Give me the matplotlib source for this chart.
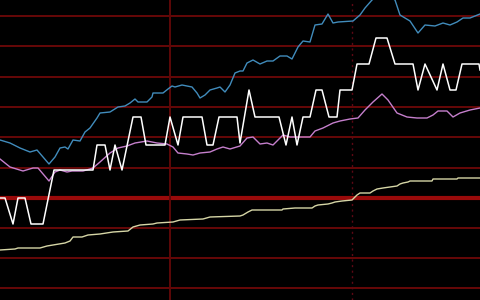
import numpy as np
import matplotlib.pyplot as plt

# values, in screen rows (top = 0)
blue_x = [0, 10, 20, 30, 37, 43, 49, 55, 60, 65, 68, 73, 80, 85, 90, 97, 100, 110, 118,
          125, 130, 135, 138, 147, 152, 153, 163, 168, 172, 175, 182, 187, 192, 197, 200, 205,
          210, 217, 220, 225, 230, 235, 240, 243, 247, 253, 260, 267, 273, 280, 287, 292, 298,
          303, 310, 315, 322, 328, 333, 338, 353, 360, 365, 372, 383, 395, 400, 410, 418, 425,
          435, 443, 450, 457, 463, 470, 480]
blue_y = [140, 143, 148, 152, 150, 157, 164, 157, 148, 147, 149, 140, 141, 132, 128, 118, 113, 112, 107,
          106, 103, 99, 102, 102, 97, 93, 93, 89, 86, 87, 85, 86, 87, 93, 98, 95,
          90, 88, 87, 92, 85, 73, 71, 71, 63, 60, 64, 61, 61, 56, 56, 59, 47,
          41, 42, 25, 24, 14, 23, 22, 21, 15, 8, 0, -8, 0, 15, 21, 33, 25,
          26, 23, 25, 22, 18, 18, 14]

white_x = [0, 5, 13, 18, 25, 31, 43, 54, 93, 97, 105, 110, 115, 122, 133, 141, 146, 165,
           170, 178, 183, 202, 207, 213, 219, 237, 240, 249, 255, 279, 286, 292, 297, 303,
           310, 316, 322, 329, 337, 340, 352, 357, 369, 376, 387, 395, 413, 418, 425, 437,
           443, 450, 456, 462, 479, 480]
white_y = [198, 198, 224, 198, 198, 224, 224, 170, 170, 145, 145, 170, 145, 170, 117, 117, 145, 145,
           117, 145, 117, 117, 145, 145, 117, 117, 143, 90, 117, 117, 145, 117, 145, 117,
           117, 90, 90, 117, 117, 90, 90, 64, 64, 38, 38, 64, 64, 90, 64, 90,
           64, 90, 90, 64, 64, 70]

pink_x = [0, 10, 23, 33, 38, 49, 55, 60, 67, 72, 83, 90, 93, 100, 110, 118, 127, 135, 147, 157,
          167, 173, 178, 187, 193, 200, 210, 217, 223, 230, 240, 247, 253, 260, 267, 273, 283,
          290, 297, 310, 315, 323, 333, 340, 350, 358, 365, 373, 382, 388, 397, 407, 417, 427,
          433, 438, 447, 453, 460, 470, 480]
pink_y = [159, 167, 171, 168, 168, 181, 172, 170, 172, 171, 171, 169, 168, 162, 153, 148, 146, 143, 141, 143,
          144, 147, 153, 154, 155, 153, 152, 149, 147, 149, 146, 138, 137, 144, 143, 145, 135,
          137, 137, 137, 131, 128, 123, 121, 119, 118, 110, 102, 94, 100, 113, 117, 118, 118,
          115, 111, 111, 117, 113, 110, 108]

yellow_x = [0, 15, 18, 40, 47, 53, 65, 70, 73, 82, 88, 100, 113, 128, 133, 140, 153, 157, 173,
            180, 203, 210, 240, 243, 248, 252, 282, 283, 295, 312, 315, 318, 328, 332, 335, 342,
            352, 353, 357, 360, 370, 373, 377, 383, 390, 397, 400, 403, 408, 410, 432, 433,
            457, 458, 480]
yellow_y = [250, 249, 248, 248, 246, 245, 243, 241, 237, 237, 235, 234, 232, 231, 227, 225, 224, 223, 222,
            220, 219, 217, 216, 215, 212, 210, 210, 209, 208, 208, 206, 205, 204, 203, 202, 201,
            200, 199, 195, 193, 193, 191, 189, 188, 187, 186, 184, 183, 182, 181, 181, 179,
            179, 178, 178]

grid_rows = [16, 46, 76.5, 107, 137, 168, 228, 258, 288]
mid_row = 198

fig = plt.figure(figsize=(4.8, 3.0), dpi=100, facecolor="black")
ax = fig.add_axes([0, 0, 1, 1])
ax.set_facecolor("black")
ax.set_xlim(0, 480)
ax.set_ylim(300, 0)
ax.axis("off")

for r in grid_rows:
    ax.axhline(r, color="#6e0808", lw=1.3, zorder=1)
ax.axhline(mid_row, color="#9a0a0a", lw=3, zorder=1)
ax.axvline(170, color="#5e0808", lw=1.4, zorder=1)
ax.axvline(352, color="#5e0814", lw=1, ls=(0, (1.5, 2.5)), zorder=1)

ax.plot(yellow_x, yellow_y, color="#d6d6a6", lw=1, zorder=3)
ax.plot(pink_x, pink_y, color="#c57fcc", lw=1, zorder=3)
ax.plot(blue_x, blue_y, color="#418cbc", lw=1, zorder=3)
ax.plot(white_x, white_y, color="white", lw=1.1, zorder=4)

fig.savefig("out.png", dpi=100, facecolor="black")
